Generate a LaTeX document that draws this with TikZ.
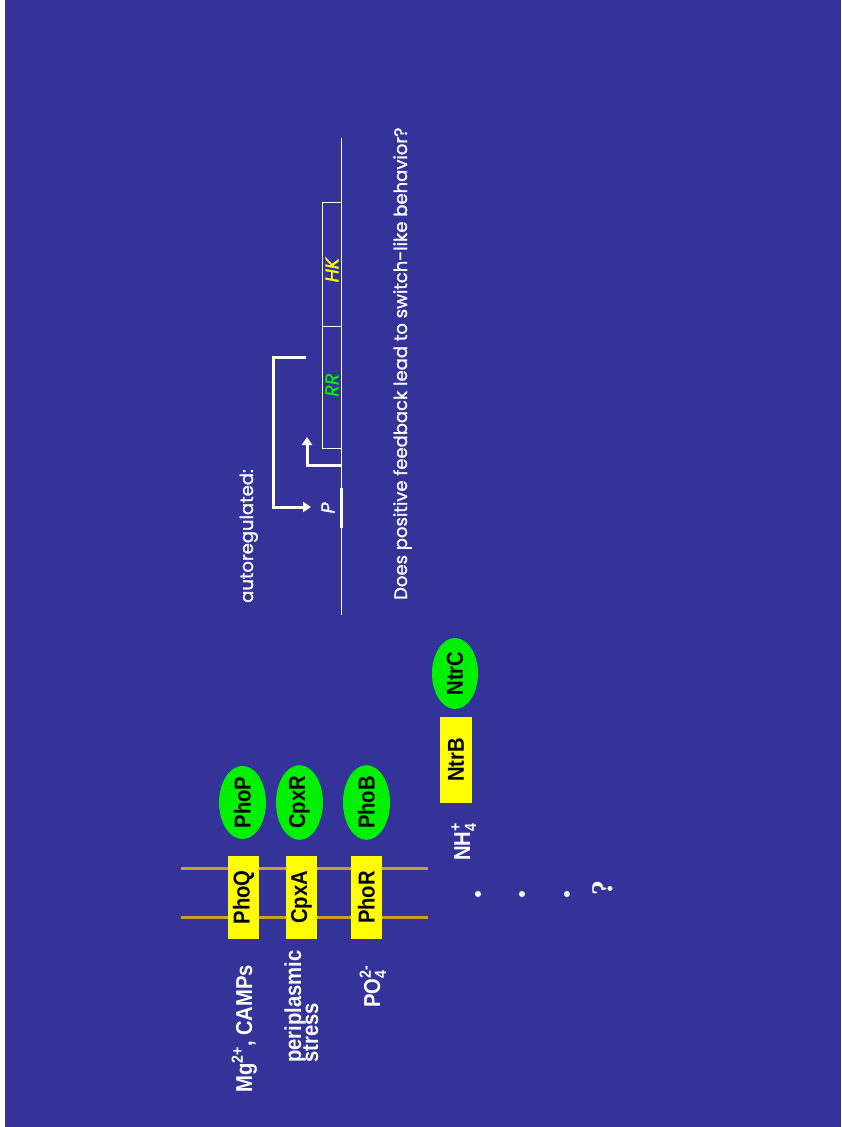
\documentclass[tikz,border=0pt]{standalone}
\usepackage{fontspec}
\usepackage{amsmath}
\setmainfont{Liberation Sans}[FakeStretch=0.88]
\newfontfamily\handfont{Poppins}[FakeBold=1.2]
\newfontfamily\quryfont{Liberation Serif}
\usetikzlibrary{arrows.meta,shapes.geometric}
\definecolor{slideblue}{HTML}{333399}
\definecolor{hkyellow}{HTML}{FFFF00}
\definecolor{rrgreen}{HTML}{00F000}
\definecolor{membrane}{HTML}{C9A02A}

\tikzset{
  hkbox/.style={fill=hkyellow, rotate=90, minimum width=83pt, minimum height=31pt, inner sep=0pt, font=\bfseries\fontsize{23}{23}\selectfont},
  rrblob/.style={ellipse, fill=rrgreen, rotate=90, minimum width=71pt, minimum height=47pt, inner sep=0pt, font=\bfseries\fontsize{23}{23}\selectfont},
  signal/.style={white, rotate=90, anchor=base west, inner sep=0pt, font=\bfseries\fontsize{23}{23}\selectfont},
  hand/.style={white, rotate=90, anchor=base west, inner sep=0pt, font=\handfont\fontsize{18}{18}\selectfont},
  genebox/.style={draw=white, line width=0.8pt, rotate=90, minimum height=19pt, inner sep=0pt},
  genelabel/.style={rotate=90, inner sep=0pt, font=\handfont\itshape\fontsize{19}{19}\selectfont},
  feedarrow/.style={white, line width=3pt, -{Triangle[width=10pt,length=8pt]}},
  membraneline/.style={membrane, line width=3pt}
}

\begin{document}
\begin{tikzpicture}[x=1pt,y=-1pt]
\useasboundingbox (0,0) rectangle (841,1127);
\fill[white] (0,0) rectangle (841,1127);
\fill[slideblue] (5,0) rectangle (841,1127);

% membrane
\draw[membraneline] (181,868) -- (428,868);
\draw[membraneline] (181,917) -- (428,917);

% sensor kinases and regulators
\node[hkbox] (phoq) at (243.5,897.5) {PhoQ};
\node[hkbox] (cpxa) at (301.5,897.5) {CpxA};
\node[hkbox] (phor) at (366.5,897.5) {PhoR};
\node[rrblob] (phop) at (242.5,802.5) {PhoP};
\node[rrblob] (cpxr) at (299.5,802.5) {CpxR};
\node[rrblob] (phob) at (366.5,802.5) {PhoB};

\node[hkbox, minimum width=86pt, minimum height=32pt] (ntrb) at (456,760) {NtrB};
\node[rrblob, minimum width=71pt, minimum height=46pt] (ntrc) at (455,673.5) {NtrC};

% signals
\node[signal] (mg) at (252,1093) {Mg\textsuperscript{2+}, CAMPs};
\node[signal] (peri) at (301,1063) {periplasmic};
\node[signal] (stress) at (318,1063) {stress};
\node[signal] (po4) at (380,1008) {PO$_{\text{4}}^{\text{2-}}$};
\node[signal] (nh4) at (470,861) {NH$_{\text{4}}^{\text{+}}$};

\foreach \dy/\nm in {478/dota,522/dotb,567/dotc}
  \fill[white] (\dy,894) circle (3pt) coordinate (\nm);
\node[white, rotate=90, inner sep=0pt, font=\quryfont\bfseries\fontsize{30}{30}\selectfont] (qmark) at (603,888) {?};

% autoregulated operon
\node[hand] (auto) at (253,603) {autoregulated:};
\coordinate (dnatop) at (341,138);
\coordinate (dnabot) at (341,615);
\draw[white, line width=1pt] (dnatop) -- (dnabot);
\node[genebox, minimum width=122pt] (rrgene) at (331.5,387) {};
\node[genebox, minimum width=124pt] (hkgene) at (331.5,264) {};
\node[genelabel, text=rrgreen] (rrname) at (332,385) {RR};
\node[genelabel, text=hkyellow] (hkname) at (332,270) {HK};

\coordinate (promtop) at (341,488);
\coordinate (prombot) at (341,528);
\draw[white, line width=3pt] (promtop) -- (prombot);
\node[genelabel, text=white] (pname) at (328,508) {P};

\coordinate (tss) at (341,465);
\coordinate (tsstip) at (307,437);
\draw[feedarrow] (tss) -| (tsstip);

\coordinate (fbstart) at (306,357);
\coordinate (fbend) at (311,507);
\draw[feedarrow] (fbstart) -- ++(-33,0) |- (fbend);

\node[hand] (question) at (407,600) {Does positive feedback lead to switch-like behavior?};
\end{tikzpicture}
\end{document}
